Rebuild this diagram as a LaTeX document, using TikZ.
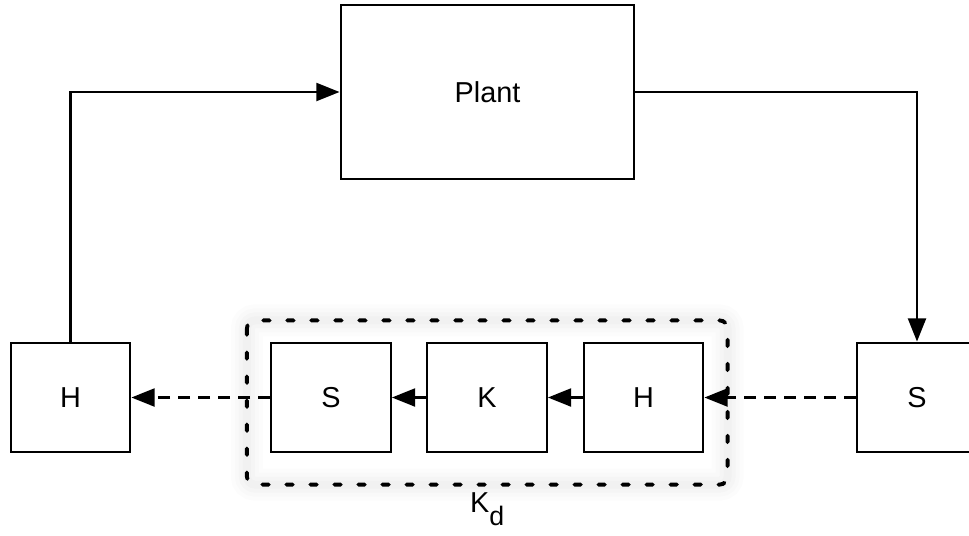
\documentclass[tikz,border=0pt]{standalone}
\usepackage{fontspec}
\setmainfont{Liberation Sans}
\usetikzlibrary{arrows.meta,positioning,fit}

\begin{document}
\begin{tikzpicture}[x=0.025cm,y=-0.025cm,>={Triangle[length=0.58cm,width=0.45cm]},
  line width=1.6pt,
  block/.style={draw,minimum width=2.99cm,minimum height=2.74cm,inner sep=0pt,
    font=\fontsize{20.5}{24}\selectfont},
  link/.style={->,dash pattern=on 0.3cm off 0.2cm},
  glow/.style={draw=black,draw opacity=#1,rounded corners=0.2cm},
  framebox/.style={draw,rounded corners=0.2cm,line width=2.8pt,line cap=round,
    dash pattern=on 0.16cm off 0.44cm}]
  \useasboundingbox (0,0) rectangle (969,535);
  \node[block,minimum width=7.34cm,minimum height=4.35cm] (plant) at (487.5,92) {Plant};
  \node[block] (hin) at (70.5,397.5) {H};
  \node[block] (sd) at (331,397.5) {S};
  \node[block] (kd) at (487,397.5) {K};
  \node[block] (hd) at (643.5,397.5) {H};
  \node[block] (sout) at (917,397.5) {S};
  \node[fit=(sd)(hd),inner xsep=0.55cm,inner ysep=0.625cm,yshift=-0.125cm] (kdbox) {};
  \foreach \w/\o in {0.8/0.012,0.6/0.012,0.4/0.014,0.2/0.016}
    \draw[glow=\o,line width=\w cm] (kdbox.north west) rectangle (kdbox.south east);
  \draw[framebox] (kdbox.north west) rectangle (kdbox.south east);
  \node[below=0.05cm of kdbox,font=\fontsize{20.5}{24}\selectfont] (kdlabel)
    {K\raisebox{-0.45em}{\fontsize{19}{22}\selectfont d}};
  \draw[->] (hin.north) |- (plant.west);
  \draw[->] (plant.east) -| (sout.north);
  \draw[->] (hd) -- (kd);
  \draw[->] (kd) -- (sd);
  \draw[link] (sout) -- (hd);
  \draw[link] (sd) -- (hin);
\end{tikzpicture}
\end{document}
